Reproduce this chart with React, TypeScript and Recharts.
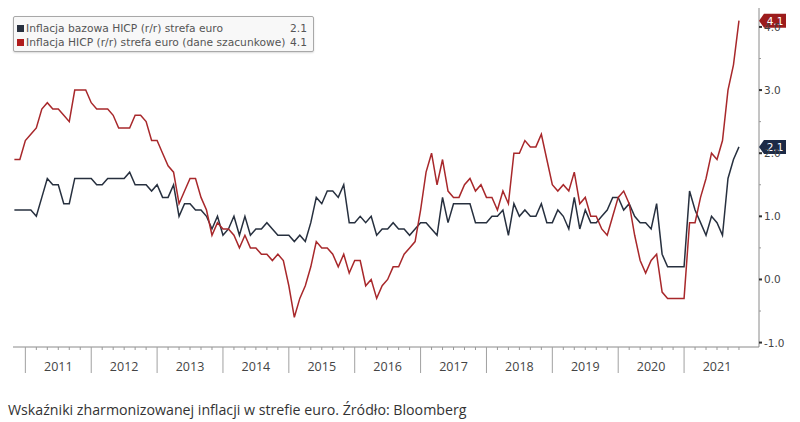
import React from 'react';
import { LineChart, Line, XAxis, YAxis, ReferenceDot } from 'recharts';

// HICP euro area, monthly, Oct 2010 - Oct 2021 (y/y %)
const START_OFFSET = -2; // Oct 2010, months from Jan 2011 (point drawn at month end)

const hicp = [
  1.9, 1.9, 2.2,
  2.3, 2.4, 2.7, 2.8, 2.7, 2.7, 2.6, 2.5, 3.0, 3.0, 3.0, 2.8,
  2.7, 2.7, 2.7, 2.6, 2.4, 2.4, 2.4, 2.6, 2.6, 2.5, 2.2, 2.2,
  2.0, 1.8, 1.7, 1.2, 1.4, 1.6, 1.6, 1.3, 1.1, 0.7, 0.9, 0.8,
  0.8, 0.7, 0.5, 0.7, 0.5, 0.5, 0.4, 0.4, 0.3, 0.4, 0.3, -0.1,
  -0.6, -0.3, -0.1, 0.2, 0.6, 0.5, 0.5, 0.4, 0.2, 0.4, 0.1, 0.3,
  0.3, -0.1, 0.0, -0.3, -0.1, 0.0, 0.2, 0.2, 0.4, 0.5, 0.6, 1.1,
  1.7, 2.0, 1.5, 1.9, 1.4, 1.3, 1.3, 1.5, 1.6, 1.4, 1.5, 1.3,
  1.3, 1.1, 1.4, 1.2, 2.0, 2.0, 2.2, 2.1, 2.1, 2.3, 1.9, 1.5,
  1.4, 1.5, 1.4, 1.7, 1.2, 1.3, 1.0, 1.0, 0.8, 0.7, 1.0, 1.3,
  1.4, 1.2, 0.7, 0.3, 0.1, 0.3, 0.4, -0.2, -0.3, -0.3, -0.3, -0.3,
  0.9, 0.9, 1.3, 1.6, 2.0, 1.9, 2.2, 3.0, 3.4, 4.1,
];

const core = [
  1.1, 1.1, 1.1,
  1.1, 1.0, 1.3, 1.6, 1.5, 1.5, 1.2, 1.2, 1.6, 1.6, 1.6, 1.6,
  1.5, 1.5, 1.6, 1.6, 1.6, 1.6, 1.7, 1.5, 1.5, 1.5, 1.4, 1.5,
  1.3, 1.3, 1.5, 1.0, 1.2, 1.2, 1.1, 1.1, 1.0, 0.8, 1.0, 0.7,
  0.8, 1.0, 0.7, 1.0, 0.7, 0.8, 0.8, 0.9, 0.8, 0.7, 0.7, 0.7,
  0.6, 0.7, 0.6, 0.9, 1.3, 1.2, 1.4, 1.4, 1.3, 1.5, 0.9, 0.9,
  1.0, 0.9, 1.0, 0.7, 0.8, 0.8, 0.9, 0.8, 0.8, 0.7, 0.8, 0.9,
  0.9, 0.8, 0.7, 1.3, 0.9, 1.2, 1.2, 1.2, 1.2, 0.9, 0.9, 0.9,
  1.0, 1.0, 1.1, 0.7, 1.2, 1.0, 1.1, 1.0, 1.0, 1.2, 0.9, 0.9,
  1.1, 1.0, 0.8, 1.3, 0.8, 1.1, 0.9, 0.9, 1.0, 1.1, 1.3, 1.3,
  1.1, 1.2, 1.0, 0.9, 0.9, 0.8, 1.2, 0.4, 0.2, 0.2, 0.2, 0.2,
  1.4, 1.1, 0.9, 0.7, 1.0, 0.9, 0.7, 1.6, 1.9, 2.1,
];

const years = ['2011', '2012', '2013', '2014', '2015', '2016', '2017', '2018', '2019', '2020', '2021'];
const yTicks = [-1, -0.5, 0, 0.5, 1, 1.5, 2, 2.5, 3, 3.5, 4];
const seriesNames = [
  'Inflacja bazowa HICP (r/r) strefa euro',
  'Inflacja HICP (r/r) strefa euro (dane szacunkowe)',
];

const RED = '#a8282b';
const NAVY = '#27303f';
const X_MAX = 133.65;

const data = hicp.map((v, i) => ({ t: START_OFFSET + i, hicp: v, core: core[i] }));

// tick every 2 months, year dividers every 12
const xTicks: number[] = [];
for (let t = 0; t <= 130; t += 2) xTicks.push(t);

const XTick = (props: any) => {
  const { x, y, payload } = props;
  const t = payload.value;
  const yr = Math.floor(t / 12);
  return (
    <g>
      {t % 12 === 0 ? (
        <line x1={x} x2={x} y1={y} y2={y + 26} stroke="#a0a0a0" strokeWidth={1} />
      ) : (
        <line x1={x} x2={x} y1={y} y2={y + 3} stroke="#999" strokeWidth={1} />
      )}
      {t % 12 === 6 && years[yr] ? (
        <text x={x} y={y + 24} textAnchor="middle" fontSize={12.5} fill="#444"
          fontFamily="'Open Sans', 'Noto Sans', sans-serif">{years[yr]}</text>
      ) : null}
    </g>
  );
};

const YTick = (props: any) => {
  const { x, y, payload } = props;
  const v = payload.value;
  const major = Number.isInteger(v);
  return (
    <g>
      <line x1={x} x2={x + (major ? 3 : 2)} y1={y} y2={y} stroke={major ? '#333' : '#999'} strokeWidth={major ? 2 : 1} />
      {major ? (
        <text x={x + 5} y={y + 4} fontSize={10.5} fill="#444" fontFamily="'DejaVu Sans', Verdana, sans-serif">
          {v.toFixed(1)}
        </text>
      ) : null}
    </g>
  );
};

const tag = (color: string, label: string) => (props: any) => {
  const { cx, cy } = props;
  return (
    <g>
      <polygon
        points={`${cx},${cy} ${cx + 5},${cy - 7} ${cx + 27},${cy - 7} ${cx + 27},${cy + 7} ${cx + 5},${cy + 7}`}
        fill={color}
      />
      <text x={cx + 16} y={cy + 4} textAnchor="middle" fontSize={10.5} fill="#fff"
        fontFamily="'DejaVu Sans', Verdana, sans-serif">{label}</text>
    </g>
  );
};

export default function App() {
  const lastCore = core[core.length - 1];
  const lastHicp = hicp[hicp.length - 1];
  return (
    <div style={{ position: 'absolute', left: 0, top: 0, width: 800, height: 422, background: '#fff' }}>
      <LineChart width={800} height={380} data={data} margin={{ top: 8, right: 0, left: 13, bottom: 0 }}>
        <XAxis
          dataKey="t"
          type="number"
          domain={[-2.25, X_MAX]}
          ticks={xTicks}
          interval={0}
          tick={<XTick />}
          tickLine={false}
          tickSize={0}
          tickMargin={0}
          height={33}
          axisLine={{ stroke: '#8a8a8a' }}
        />
        <YAxis
          orientation="right"
          type="number"
          domain={[-1.07, 4.3]}
          ticks={yTicks}
          interval={0}
          tick={<YTick />}
          tickLine={false}
          tickSize={0}
          tickMargin={0}
          width={41}
          axisLine={{ stroke: '#8a8a8a' }}
        />
        <Line type="linear" dataKey="core" stroke={NAVY} strokeWidth={1.5} dot={false} isAnimationActive={false} />
        <Line type="linear" dataKey="hicp" stroke={RED} strokeWidth={1.5} dot={false} isAnimationActive={false} />
        <ReferenceDot x={X_MAX} y={lastHicp} ifOverflow="visible" shape={tag('#9c1c1c', lastHicp.toFixed(1))} />
        <ReferenceDot x={X_MAX} y={lastCore} ifOverflow="visible" shape={tag('#1c2a46', lastCore.toFixed(1))} />
      </LineChart>

      <div
        style={{
          position: 'absolute', left: 13, top: 16, width: 301, height: 36,
          border: '1px solid #a8a8a8', borderRadius: 2, background: '#f8f8f8',
          boxShadow: '0 1px 2px rgba(0,0,0,0.15)',
          fontFamily: "'DejaVu Sans', Verdana, sans-serif", fontSize: 10.7, color: '#555',
          padding: '5px 6px 0 3px', boxSizing: 'border-box', lineHeight: '13.5px',
        }}
      >
        {[{ c: NAVY, v: lastCore }, { c: '#b01c1c', v: lastHicp }].map((row, i) => (
          <div key={i} style={{ display: 'flex', alignItems: 'center', whiteSpace: 'nowrap' }}>
            <span style={{ display: 'inline-block', width: 7, height: 7, background: row.c, marginRight: 2 }} />
            <span style={{ flex: 1 }}>{seriesNames[i]}</span>
            <span>{row.v.toFixed(1)}</span>
          </div>
        ))}
      </div>

      <div
        style={{
          position: 'absolute', left: 8, top: 400, fontSize: 14.2, color: '#333',
          fontFamily: "'Open Sans', 'Noto Sans', sans-serif", whiteSpace: 'nowrap',
        }}
      >
        Wskaźniki zharmonizowanej inflacji w strefie euro. Źródło: Bloomberg
      </div>
    </div>
  );
}
